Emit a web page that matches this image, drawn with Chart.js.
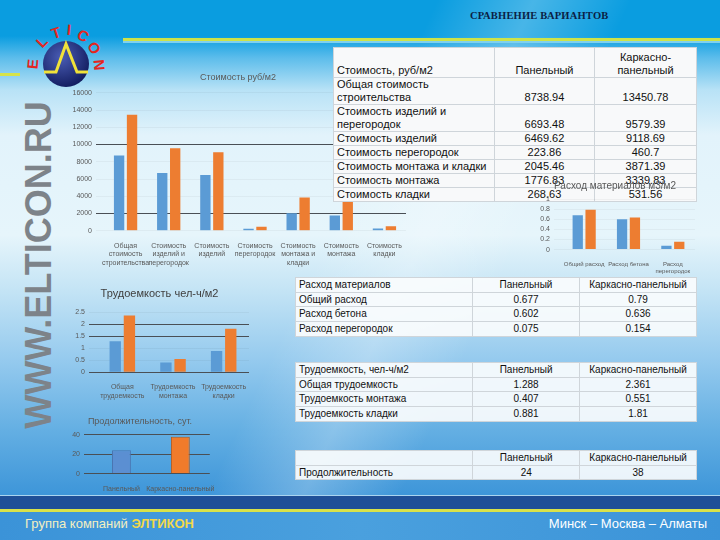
<!DOCTYPE html>
<html>
<head>
<meta charset="utf-8">
<script src="https://cdn.jsdelivr.net/npm/chart.js@4.4.0/dist/chart.umd.min.js"></script>
<style>
  html, body { margin: 0; padding: 0; }
  body {
    width: 720px; height: 540px; position: relative; overflow: hidden;
    font-family: "Liberation Sans", Arial, sans-serif;
    background:
      linear-gradient(115deg, rgba(255,255,255,0) 0%, rgba(255,255,255,0) 45%, rgba(255,255,255,0.25) 55%, rgba(255,255,255,0) 65%),
      linear-gradient(180deg, #0a9de0 0px, #0a9de0 36px, #5dbdeb 58px, #b8e2f6 90px, #e2f3fb 135px, #e6f5fb 235px,
        #c4e4f5 290px, #95caee 360px, #64afe3 430px, #3e96d9 494px);
  }
  .topline { position: absolute; left: 123px; top: 38px; width: 597px; height: 3px; background: #cde34a; }
  .topline2 { position: absolute; left: 123px; top: 41px; width: 597px; height: 2px; background: #7fd0ee; }
  .leftline { position: absolute; left: 0; top: 73px; width: 20px; height: 3px; background: #d6e34a; }
  .title { position: absolute; left: 470px; top: 10px; font: bold 10.5px "Liberation Serif", serif; color: #0b1f45; letter-spacing: 0.2px; }
  .www { position: absolute; left: 39px; top: 265px; transform: translate(-50%, -50%) rotate(-90deg);
    font: bold 36px "Liberation Sans", Arial, sans-serif; color: #7d8389; white-space: nowrap; }
  .band1 { position: absolute; left: 0; top: 495px; width: 720px; height: 1px; background: #a9d4f0; }
  .band2 { position: absolute; left: 0; top: 496px; width: 720px; height: 13px; background: #1f4f97; }
  .band3 { position: absolute; left: 0; top: 509px; width: 720px; height: 3px; background: #d9e24a; }
  .footer { position: absolute; left: 0; top: 512px; width: 720px; height: 28px; background: linear-gradient(90deg, #3b93d8, #4aa0de 50%, #3b93d8); }
  .foot-l { position: absolute; left: 25px; top: 516px; font-size: 13px; color: #f4efc0; }
  .foot-l b { color: #f3d84a; }
  .foot-r { position: absolute; right: 13px; top: 516px; font-size: 13px; color: #ffffff; }
  canvas { position: absolute; }
  table { position: absolute; border-collapse: collapse; color: #111; }
  td { border: 1px solid #cfd5da; padding: 0 3px; }
  #t1 { left: 333px; top: 47px; width: 364px; font-size: 11px; line-height: 13px; background: #f8f9fa; }
  #t1 td { vertical-align: bottom; }
  #t1 tr:first-child td { height: 29px; }
  .tb { left: 295px; width: 402px; font-size: 10px; line-height: 13.7px; background: rgba(250,252,253,0.92); }
  td.v { text-align: center; }
</style>
</head>
<body>
<div class="topline"></div><div class="topline2"></div><div class="leftline"></div>
<div class="title">СРАВНЕНИЕ ВАРИАНТОВ</div>

<svg style="position:absolute;left:0;top:0" width="130" height="100">
  <defs>
    <radialGradient id="g" cx="40%" cy="35%" r="70%">
      <stop offset="0" stop-color="#4a5db5"/><stop offset="1" stop-color="#101a5c"/>
    </radialGradient>
  </defs>
  <circle cx="66" cy="64" r="23" fill="url(#g)"/>
  <polyline points="44,72 56,72 66,44 77,72 88,72" fill="none" stroke="#f0e23a" stroke-width="3"/>
  <g fill="#e3261f" font-family="Liberation Sans" font-weight="bold" font-size="15" text-anchor="middle">
    <text transform="translate(33,64) rotate(-85)" dy="5">E</text>
    <text transform="translate(42,42) rotate(-45)" dy="5">L</text>
    <text transform="translate(56,33) rotate(-18)" dy="5">T</text>
    <text transform="translate(69,30) rotate(5)" dy="5">I</text>
    <text transform="translate(83,36) rotate(30)" dy="5">C</text>
    <text transform="translate(94,48) rotate(60)" dy="5">O</text>
    <text transform="translate(99,65) rotate(85)" dy="5">N</text>
  </g>
</svg>

<div class="www">WWW.ELTICON.RU</div>

<canvas id="c1" width="345" height="200" style="left:70px;top:70px"></canvas>
<canvas id="c3" width="190" height="120" style="left:70px;top:283px"></canvas>
<canvas id="c4" width="150" height="84" style="left:70px;top:412px"></canvas>

<table id="t1"></table>
<table id="t2" class="tb" style="top:277px"></table>
<table id="t3" class="tb" style="top:362px"></table>
<table id="t4" class="tb" style="top:450px"></table>

<canvas id="c2" width="170" height="100" style="left:535px;top:178px"></canvas>

<div class="band1"></div><div class="band2"></div><div class="band3"></div><div class="footer"></div>
<div class="foot-l">Группа компаний <b>ЭЛТИКОН</b></div>
<div class="foot-r">Минск – Москва – Алматы</div>

<script>
// ─── Data ──────────────────────────────────────────────────────
const SERIES = ['Панельный', 'Каркасно-панельный'];

const costCats = ['Общая стоимость строительства', 'Стоимость изделий и перегородок', 'Стоимость изделий',
  'Стоимость перегородок', 'Стоимость монтажа и кладки', 'Стоимость монтажа', 'Стоимость кладки'];
const costPanel = [8738.94, 6693.48, 6469.62, 223.86, 2045.46, 1776.83, 268.63];
const costFrame = [13450.78, 9579.39, 9118.69, 460.7, 3871.39, 3339.83, 531.56];
const costTicks = [0, 2000, 4000, 6000, 8000, 10000, 12000, 14000, 16000];

const matCats = ['Общий расход', 'Расход бетона', 'Расход перегородок'];
const matPanel = [0.677, 0.602, 0.075];
const matFrame = [0.79, 0.636, 0.154];
const matTicks = [0, 0.2, 0.4, 0.6, 0.8, 1];

const laborCats = ['Общая трудоемкость', 'Трудоемкость монтажа', 'Трудоемкость кладки'];
const laborPanel = [1.288, 0.407, 0.881];
const laborFrame = [2.361, 0.551, 1.81];
const laborTicks = [0, 0.5, 1, 1.5, 2, 2.5];

const durCats = ['Панельный', 'Каркасно-панельный'];
const durValues = [24, 38];
const durTicks = [0, 20, 40];

const BLUE = '#5b9bd5', ORANGE = '#ed7d31', TICK = '#595959';

// ─── Tables ────────────────────────────────────────────────────
function fillTable(id, head, rows) {
  const t = document.getElementById(id);
  const tr = (cells, widths) => '<tr>' + cells.map((c, i) =>
    `<td${i ? ' class="v"' : ''}${widths ? ` style="width:${widths[i]}px"` : ''}>${c}</td>`).join('') + '</tr>';
  const w = id === 't1' ? [156, 94, 96] : [172, 101, 111];
  t.innerHTML = tr(head, w) + rows.map(r => tr(r)).join('');
}
fillTable('t1', ['Стоимость, руб/м2', SERIES[0], 'Каркасно-панельный'],
  costCats.map((c, i) => [c, costPanel[i], costFrame[i]]));
fillTable('t2', ['Расход материалов', ...SERIES], matCats.map((c, i) => [c, matPanel[i], matFrame[i]]));
fillTable('t3', ['Трудоемкость, чел-ч/м2', ...SERIES], laborCats.map((c, i) => [c, laborPanel[i], laborFrame[i]]));
fillTable('t4', ['', ...SERIES], [['Продолжительность', durValues[0], durValues[1]]]);

// ─── Charts ────────────────────────────────────────────────────
function wrap(label, n) {
  const out = []; let cur = '';
  for (const w of label.split(' ')) {
    if (cur && (cur + ' ' + w).length > n) { out.push(cur); cur = w; } else cur = cur ? cur + ' ' + w : w;
  }
  out.push(cur);
  return out;
}

function barChart(id, o) {
  const tv = o.ticks;
  return new Chart(document.getElementById(id), {
    type: 'bar',
    data: { labels: o.labels, datasets: o.datasets },
    options: {
      responsive: false, animation: false,
      layout: { padding: { right: o.padRight, bottom: 0 } },
      plugins: {
        legend: { display: false }, tooltip: { enabled: false },
        title: { display: true, text: o.title, color: o.titleColor || TICK,
          font: { family: 'Liberation Sans', size: o.titleSize, weight: 'normal' }, padding: o.titlePad }
      },
      scales: {
        x: {
          grid: { display: false }, border: { display: false },
          ticks: { color: TICK, font: { size: o.xFont || 7 }, maxRotation: 0, autoSkip: false, padding: 3 }
        },
        y: {
          min: tv[0], max: tv[tv.length - 1],
          afterFit: s => { s.width = o.yWidth; },
          afterBuildTicks: s => { s.ticks = tv.map(v => ({ value: v })); },
          border: { display: false },
          grid: { color: c => o.darkGrid.includes(c.tick.value) ? '#4a4f55' : 'rgba(0,0,0,0.04)', lineWidth: 1 },
          ticks: { color: TICK, font: { size: 7 }, padding: 4, autoSkip: false,
            callback: v => String(v) }
        }
      }
    }
  });
}

const pair = (p, f, cp, bp) => [
  { label: SERIES[0], data: p, backgroundColor: BLUE, categoryPercentage: cp, barPercentage: bp },
  { label: SERIES[1], data: f, backgroundColor: ORANGE, categoryPercentage: cp, barPercentage: bp }
];

barChart('c1', {
  title: 'Стоимость руб/м2', titleSize: 9, titlePad: { top: 2, bottom: 10 },
  labels: costCats.map(c => wrap(c, 12)), datasets: pair(costPanel, costFrame, 0.6, 0.8),
  ticks: costTicks, yWidth: 34, padRight: 9, darkGrid: [10000, 2000]
});

barChart('c2', {
  title: 'Расход материалов м3/м2', titleSize: 10, titlePad: { top: 2, bottom: 7 },
  labels: matCats.map(c => wrap(c, 13)), datasets: pair(matPanel, matFrame, 0.58, 0.8),
  ticks: matTicks, yWidth: 27, padRight: 10, darkGrid: [], xFont: 6
});

barChart('c3', {
  title: 'Трудоемкость чел-ч/м2', titleSize: 11, titleColor: '#404040', titlePad: { top: 4, bottom: 12 },
  labels: laborCats.map(c => wrap(c, 12)), datasets: pair(laborPanel, laborFrame, 0.56, 0.8),
  ticks: laborTicks, yWidth: 27, padRight: 11, darkGrid: [0, 1.5, 2]
});

barChart('c4', {
  title: 'Продолжительность, сут.', titleSize: 9, titlePad: { top: 4, bottom: 8 },
  labels: durCats, datasets: [{
    label: 'Продолжительность', data: durValues,
    backgroundColor: ['#5b8fd2', '#f07b2b'], borderColor: ['#4a74b0', '#b85a1c'], borderWidth: 1,
    categoryPercentage: 0.64, barPercentage: 0.5
  }],
  ticks: durTicks, yWidth: 22, padRight: 10, darkGrid: [0, 20, 40]
});
</script>
</body>
</html>
